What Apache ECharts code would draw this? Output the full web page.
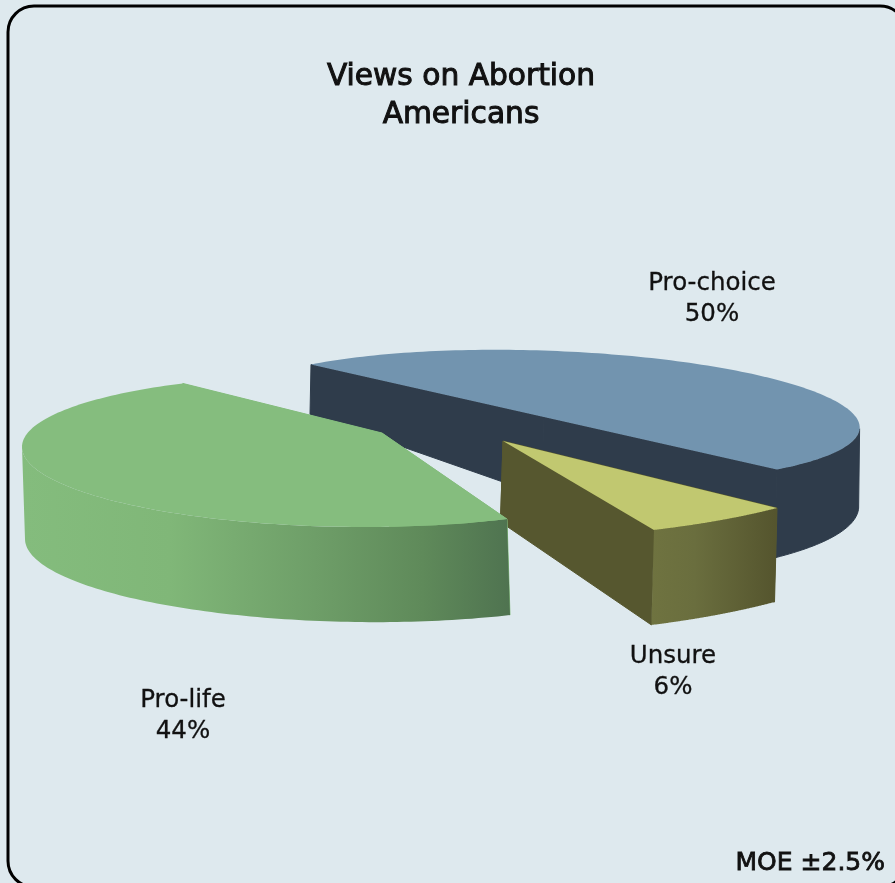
<!DOCTYPE html>
<html><head><meta charset="utf-8">
<style>html,body{margin:0;padding:0;background:#DEE9EE}#c{width:895px;height:883px}</style>
<script src="https://cdn.jsdelivr.net/npm/echarts@6/dist/echarts.min.js"></script>
</head><body><div id="c"></div>
<script>
const categories = ['Pro-choice', 'Unsure', 'Pro-life'];
const shareValues = [50, 6, 44];
const titleLines = ['Views on Abortion', 'Americans'];
const marginNote = 'MOE ±2.5%';

// Hand-fitted projection of each exploded wedge (the source is a distorted 3D pie).
const slicePoses = [
  { c:[544,417], u:[-233,-52.5], v:[213,-42], apex:null, phase:0, stretch:1, dx:-1, h0:50, h1:88, apexH:79,
    top:'#7294AF', side:'#2F3C4B', rim:'#2F3C4B', label:[712,299] },
  { c:[503,441], u:[-274,-67], v:[282,-72.5], apex:null, phase:0, stretch:1, dx:-2.5, h0:94, h1:95, apexH:81,
    top:'#C1C870', side:'#56572F',
    rim:{type:'linear',x:651,y:0,x2:775,y2:0,global:true,colorStops:[{offset:0,color:'#6F7340'},{offset:.35,color:'#6A6E3E'},{offset:1,color:'#55552E'}]},
    label:[673,672] },
  { c:[347,451], u:[325,4.06], v:[0,75.9], apex:[382,433], phase:-167.5, stretch:1.131, dx:3, h0:96, h1:90, apexH:90,
    top:'#85BD7E', side:'#85BD7E',
    rim:{type:'linear',x:23,y:0,x2:510,y2:0,global:true,colorStops:[{offset:0,color:'#84BC7D'},{offset:.3,color:'#80B778'},{offset:.6,color:'#6E9E68'},{offset:.82,color:'#5F8A5A'},{offset:1,color:'#4F7350'}]},
    label:[183,716] }
];

const total = shareValues.reduce((a, b) => a + b, 0);
const RAD = Math.PI / 180;
const FONT = 'DejaVu Sans';

function renderSlice(params, api) {
  const i = params.dataIndex, p = slicePoses[i];
  let before = 0;
  for (let k = 0; k < i; k++) before += shareValues[k];
  const a0 = before / total * 360, a1 = (before + api.value(0)) / total * 360;
  const apex = p.apex || p.c;
  const apexB = [apex[0] + p.dx, apex[1] + p.apexH];
  const at = a => {
    const t = (p.phase + p.stretch * a) * RAD, co = Math.cos(t), si = Math.sin(t);
    return [p.c[0] + p.u[0] * co + p.v[0] * si, p.c[1] + p.u[1] * co + p.v[1] * si];
  };
  const low = a => {
    const q = at(a), f = (a - a0) / (a1 - a0);
    return [q[0] + p.dx, q[1] + p.h0 + (p.h1 - p.h0) * f];
  };
  const steps = 144, arc = [], rimTop = [], rimLow = [];
  for (let s = 0; s <= steps; s++) {
    const a = a0 + (a1 - a0) * s / steps;
    const q = at(a);
    arc.push(q);
    // the outer wall only shows where the rim runs right-to-left on screen (the near side)
    if (at(a + 0.01)[0] < q[0]) { rimTop.push(q); rimLow.push(low(a)); }
  }
  const poly = (pts, fill, stroke) => ({ type:'polygon', shape:{ points:pts },
    style:{ fill, stroke: stroke || null, lineWidth: stroke ? 1 : 0, lineJoin:'round' }, silent:true });
  const solidRim = typeof p.rim === 'string' ? p.rim : null;
  return { type:'group', children:[
    poly([apex, at(a0), low(a0), apexB], p.side, p.side),
    poly([apex, at(a1), low(a1), apexB], p.side, p.side),
    poly(rimTop.concat(rimLow.slice().reverse()), p.rim, solidRim),
    poly([apex].concat(arc), p.top),
    { type:'text', silent:true, style:{ text: categories[i] + '\n' + api.value(0) + '%', x:p.label[0], y:p.label[1],
      align:'center', verticalAlign:'middle', fontFamily:FONT, fontSize:24.5, lineHeight:31, fill:'#111', stroke:'#111', lineWidth:0.3 } }
  ]};
}

const chart = echarts.init(document.getElementById('c'), null, { renderer:'canvas' });
chart.setOption({
  animation:false,
  backgroundColor:'#DEE9EE',
  title:{ text:titleLines.join('\n'), left:456, top:53, textAlign:'center',
    textStyle:{ fontFamily:FONT, fontSize:29.7, fontWeight:'normal', lineHeight:38, color:'#111', textBorderColor:'#111', textBorderWidth:1 } },
  graphic:[
    { type:'rect', z:-1, silent:true, shape:{ x:8, y:6, width:898, height:881, r:26 }, style:{ fill:'none', stroke:'#000', lineWidth:3 } },
    { type:'text', silent:true, style:{ text:marginNote, x:885, y:863, align:'right', verticalAlign:'middle', fontFamily:FONT, fontSize:25, fontWeight:'normal', fill:'#111', stroke:'#111', lineWidth:0.8 } }
  ],
  series:[{ type:'custom', coordinateSystem:'none', silent:true, renderItem:renderSlice,
    data:shareValues.map((v, i) => ({ name:categories[i], value:[v] })) }]
});
</script></body></html>
